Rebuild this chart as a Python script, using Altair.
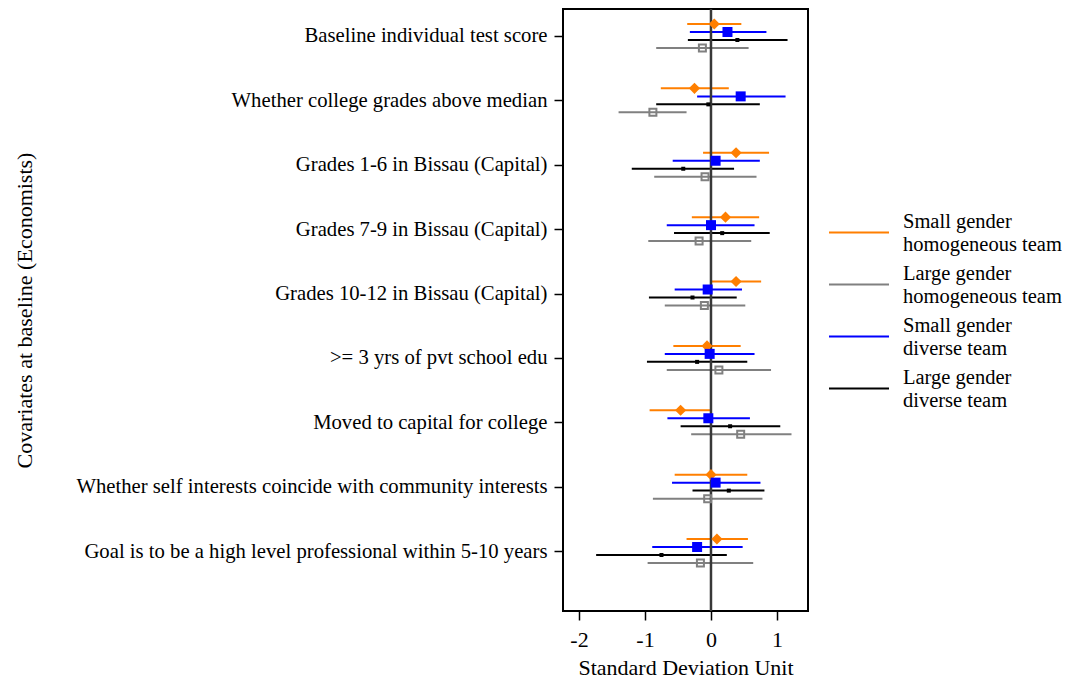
import json
import altair as alt
import pandas as pd

categories = [
    "Baseline individual test score",
    "Whether college grades above median",
    "Grades 1-6 in Bissau (Capital)",
    "Grades 7-9 in Bissau (Capital)",
    "Grades 10-12 in Bissau (Capital)",
    ">= 3 yrs of pvt school edu",
    "Moved to capital for college",
    "Whether self interests coincide with community interests",
    "Goal is to be a high level professional within 5-10 years",
]

series = [
    "Small gender homogeneous team",
    "Large gender homogeneous team",
    "Small gender diverse team",
    "Large gender diverse team",
]
colors = ["#ff7f00", "#808080", "#0000ff", "#000000"]

small_homog_est = [0.05, -0.25, 0.38, 0.22, 0.38, -0.06, -0.46, 0.00, 0.09]
small_homog_lo = [-0.36, -0.76, -0.12, -0.29, 0.01, -0.57, -0.93, -0.55, -0.37]
small_homog_hi = [0.46, 0.27, 0.88, 0.73, 0.76, 0.45, 0.01, 0.55, 0.56]

small_div_est = [0.25, 0.45, 0.07, 0.00, -0.05, -0.02, -0.04, 0.07, -0.21]
small_div_lo = [-0.32, -0.21, -0.58, -0.67, -0.55, -0.70, -0.66, -0.59, -0.89]
small_div_hi = [0.84, 1.13, 0.74, 0.66, 0.47, 0.66, 0.59, 0.75, 0.48]

large_div_est = [0.40, -0.04, -0.42, 0.17, -0.28, -0.21, 0.29, 0.27, -0.75]
large_div_lo = [-0.35, -0.83, -1.20, -0.56, -0.94, -0.97, -0.46, -0.28, -1.74]
large_div_hi = [1.16, 0.74, 0.35, 0.89, 0.39, 0.55, 1.05, 0.81, 0.24]

large_homog_est = [-0.13, -0.88, -0.09, -0.18, -0.10, 0.12, 0.45, -0.05, -0.16]
large_homog_lo = [-0.83, -1.40, -0.86, -0.95, -0.70, -0.67, -0.30, -0.88, -0.96]
large_homog_hi = [0.57, -0.37, 0.69, 0.61, 0.52, 0.91, 1.22, 0.78, 0.64]

# layout: vertical offset of each series within a category row (in row units)
row_offset = {
    series[0]: -0.1864,
    series[2]: -0.0621,
    series[3]: 0.0621,
    series[1]: 0.1864,
}

table = []
for name, est, lo, hi in [
    (series[0], small_homog_est, small_homog_lo, small_homog_hi),
    (series[2], small_div_est, small_div_lo, small_div_hi),
    (series[3], large_div_est, large_div_lo, large_div_hi),
    (series[1], large_homog_est, large_homog_lo, large_homog_hi),
]:
    for i, cat in enumerate(categories):
        table.append({
            "category": cat,
            "series": name,
            "est": est[i],
            "lo": lo[i],
            "hi": hi[i],
            "pos": i + row_offset[name],
        })
df = pd.DataFrame(table)

FONT = "Liberation Serif"

x_enc = alt.X(
    "lo:Q",
    scale=alt.Scale(domain=[-2.242, 1.470], nice=False, zero=False),
    axis=alt.Axis(
        values=[-2, -1, 0, 1],
        labelExpr="toString(datum.value)",
        title="Standard Deviation Unit",
        grid=False, domain=False,
        tickSize=9, tickWidth=1.5, tickColor="black",
        labelFontSize=22, titleFontSize=22, labelPadding=9, titlePadding=7,
        labelColor="black", titleColor="black", titleFontWeight="normal",
    ),
)
y_enc = alt.Y(
    "pos:Q",
    scale=alt.Scale(domain=[-0.4194, 8.932], nice=False, zero=False, reverse=True),
    axis=alt.Axis(
        values=list(range(len(categories))),
        labelExpr=json.dumps(categories) + "[datum.value]",
        title="Covariates at baseline (Economists)",
        titleX=-527,
        grid=False, domain=False,
        tickSize=9, tickWidth=1.5, tickColor="black",
        labelFontSize=20.7, titleFontSize=22, labelPadding=7,
        labelColor="black", titleColor="black", titleFontWeight="normal",
        labelLimit=1000,
    ),
)

base = alt.Chart(df)

ci = base.mark_rule(strokeWidth=2).encode(
    x=x_enc,
    x2="hi:Q",
    y=y_enc,
    color=alt.Color(
        "series:N",
        scale=alt.Scale(domain=series, range=colors),
        legend=alt.Legend(
            title=None,
            orient="none",
            legendX=285,
            legendY=202,
            symbolType="M-3,1.05H3",
            symbolSize=400,
            symbolStrokeWidth=2,
            labelExpr="[slice(datum.label, 0, 12), slice(datum.label, 13)]",
            labelFont=FONT,
            labelFontSize=20.5,
            labelColor="black",
            labelLimit=400,
            labelOffset=33,
            rowPadding=8,
            padding=0,
        ),
    ),
)

zero = alt.Chart(pd.DataFrame({"z": [0]})).mark_rule(
    color="#383838", strokeWidth=2.5
).encode(x="z:Q")

pt = alt.X("est:Q")
pos = alt.Y("pos:Q")

m_small_homog = base.transform_filter(alt.datum.series == series[0]).mark_point(
    shape="diamond", filled=True, size=125, color=colors[0], opacity=1
).encode(x=pt, y=pos)
m_small_div = base.transform_filter(alt.datum.series == series[2]).mark_point(
    shape="square", filled=True, size=100, color=colors[2], opacity=1
).encode(x=pt, y=pos)
m_large_div = base.transform_filter(alt.datum.series == series[3]).mark_point(
    shape="square", filled=True, size=16, color=colors[3], opacity=1
).encode(x=pt, y=pos)
m_large_homog = base.transform_filter(alt.datum.series == series[1]).mark_point(
    shape="square", filled=False, size=49, strokeWidth=2, color=colors[1], opacity=1
).encode(x=pt, y=pos)

chart = alt.layer(
    ci, zero, m_small_homog, m_small_div, m_large_div, m_large_homog
).properties(
    width=245,
    height=602,
    autosize=alt.AutoSizeParams(type="none"),
    padding={"left": 555, "top": 1, "right": 254, "bottom": 69},
).configure(
    font=FONT,
).configure_axis(
    labelFont=FONT, titleFont=FONT,
).configure_legend(
    labelFont=FONT,
).configure_view(
    stroke="black", strokeWidth=2,
)

chart.save("out.html", embed_options={"renderer": "svg", "actions": False})
